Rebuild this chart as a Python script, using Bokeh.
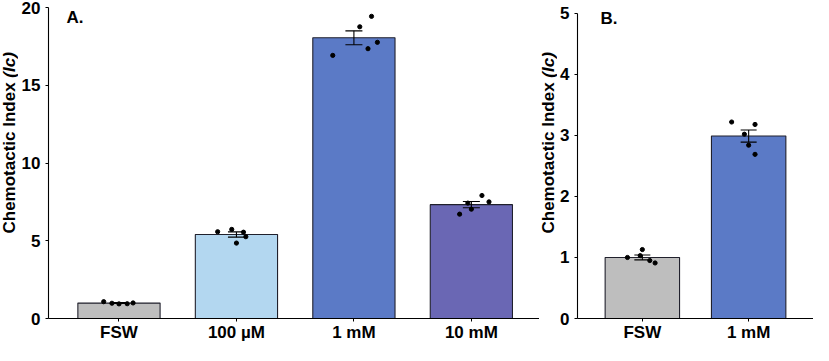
import math
from bokeh.plotting import figure
from bokeh.layouts import row
from bokeh.models import Range1d, FixedTicker, Label, Whisker, TeeHead, ColumnDataSource
from bokeh.core.properties import value
from bokeh.embed import file_html
from bokeh.resources import INLINE

# ---------------- data ----------------
a_categories = ["FSW", "100 µM", "1 mM", "10 mM"]
a_means = [0.99, 5.40, 18.05, 7.32]
a_sems = [0.03, 0.17, 0.45, 0.20]
a_points = [
    [1.08, 0.98, 0.94, 0.95, 1.00],
    [5.58, 5.73, 5.55, 5.26, 4.85],
    [16.92, 18.76, 19.43, 17.76, 17.35],
    [6.71, 7.42, 7.03, 7.91, 7.50],
]
a_jitter = [
    [-0.13, -0.06, 0.0, 0.07, 0.12],
    [-0.16, -0.04, 0.06, 0.08, 0.0],
    [-0.18, 0.05, 0.15, 0.20, 0.12],
    [-0.10, -0.03, 0.0, 0.09, 0.15],
]
a_colors = ["#BEBEBE", "#B3D7F0", "#5B7AC6", "#6A67B4"]
a_yticks = [0, 5, 10, 15, 20]

b_categories = ["FSW", "1 mM"]
b_means = [1.00, 2.99]
b_sems = [0.04, 0.10]
b_points = [
    [1.00, 1.13, 1.03, 0.95, 0.91],
    [3.22, 3.02, 3.18, 2.84, 2.69],
]
b_jitter = [
    [-0.14, 0.0, -0.02, 0.07, 0.12],
    [-0.16, -0.04, 0.06, 0.0, 0.06],
]
b_colors = ["#BEBEBE", "#5B7AC6"]
b_yticks = [0, 1, 2, 3, 4, 5]

y_label_main = "Chemotactic Index "
y_label_ital = "(Ic)"

FONT = "Liberation Sans"
H = 345
TOP = 7          # shared top border of all figures in the row
BOTTOM = 27      # shared bottom border (>= x-axis needs)
FH = H - TOP - BOTTOM   # frame height in px


def text_width(s, size):
    w = {"C": 722, "h": 611, "e": 556, "m": 889, "o": 611, "t": 333, "a": 556,
         "c": 556, "i": 278, " ": 278, "I": 278, "n": 611, "d": 611, "x": 556,
         "(": 333, ")": 333}
    return sum(w.get(ch, 556) for ch in s) * size / 1000.0


def label_strip(width, start_px, size=17):
    """A narrow figure holding the rotated y-axis title (bold + bold italic)."""
    p = figure(width=width, height=H, output_backend="svg",
               toolbar_location=None, x_range=Range1d(0, width),
               y_range=Range1d(0, FH), x_axis_location=None,
               y_axis_location=None, min_border_left=0, min_border_right=0,
               min_border_top=TOP, min_border_bottom=BOTTOM)
    p.grid.visible = False
    p.outline_line_color = None
    x0 = width / 2.0
    p.text(x=[x0], y=[start_px], text=[y_label_main],
           angle=math.pi / 2, text_font=value(FONT), text_font_style="bold",
           text_font_size=f"{size}px", text_align="left",
           text_baseline="middle", text_color="black")
    p.text(x=[x0], y=[start_px + text_width(y_label_main, size)],
           text=[y_label_ital], angle=math.pi / 2, text_font=value(FONT),
           text_font_style="bold italic", text_font_size=f"{size}px",
           text_align="left", text_baseline="middle", text_color="black")
    return p


def panel(categories, means, sems, points, jitter, colors, yticks, xr,
          top_gap_px, width, bl, letter, letter_dx, letter_drop_px, cap):
    ppu = (FH - top_gap_px) / float(yticks[-1] - yticks[0])
    ytop = yticks[-1] + top_gap_px / ppu
    p = figure(width=width, height=H, output_backend="svg",
               toolbar_location=None, x_range=Range1d(*xr),
               y_range=Range1d(yticks[0], ytop),
               min_border_left=bl, min_border_right=0,
               min_border_top=TOP, min_border_bottom=BOTTOM)
    p.outline_line_color = None
    p.xgrid.visible = False
    p.ygrid.visible = False

    xs = list(range(len(categories)))
    src = ColumnDataSource(dict(x=xs, top=means, color=colors,
                                upper=[m + s for m, s in zip(means, sems)],
                                lower=[m - s for m, s in zip(means, sems)]))
    p.vbar(x="x", top="top", bottom=0, width=0.70, fill_color="color",
           line_color="#20202c", line_width=1.1, source=src)

    w = Whisker(base="x", upper="upper", lower="lower", source=src,
                line_color="black", line_width=1.1, level="annotation",
                upper_head=TeeHead(size=cap, line_color="black", line_width=1.1),
                lower_head=TeeHead(size=cap, line_color="black", line_width=1.1))
    p.add_layout(w)

    px, py = [], []
    for i, (vals, jit) in enumerate(zip(points, jitter)):
        for v, j in zip(vals, jit):
            px.append(i + j)
            py.append(v)
    p.scatter(px, py, size=4.2, color="black")

    for ax in (p.xaxis[0], p.yaxis[0]):
        ax.axis_line_color = "black"
        ax.axis_line_width = 1.1
        ax.major_tick_line_color = "black"
        ax.major_tick_out = 3
        ax.major_tick_in = 0
        ax.minor_tick_line_color = None
        ax.major_label_text_font = FONT
        ax.major_label_text_font_style = "bold"
        ax.major_label_text_font_size = "17px"
        ax.major_label_text_color = "black"
        ax.axis_label_standoff = 0

    p.xaxis.ticker = FixedTicker(ticks=xs)
    p.xaxis.major_label_overrides = {i: c for i, c in enumerate(categories)}
    p.xaxis.major_label_standoff = 1
    p.yaxis.ticker = FixedTicker(ticks=yticks)
    p.yaxis.major_label_standoff = 5
    p.yaxis.bounds = (yticks[0], yticks[-1])

    lt = Label(x=xr[0], y=ytop - letter_drop_px / ppu, text=letter,
               text_font=FONT, text_font_style="bold", text_font_size="17px",
               text_align="left", text_baseline="top", text_color="black",
               x_offset=letter_dx)
    p.add_layout(lt)
    return p


la = label_strip(18, 85)
pa = panel(a_categories, a_means, a_sems, a_points, a_jitter, a_colors,
           a_yticks, (-0.6, 3.58), 0.0, width=521, bl=28,
           letter="A.", letter_dx=18, letter_drop_px=0.8, cap=17)
lb = label_strip(18, 85)
pb = panel(b_categories, b_means, b_sems, b_points, b_jitter, b_colors,
           b_yticks, (-0.61, 1.61), 5.9, width=256, bl=20,
           letter="B.", letter_dx=23, letter_drop_px=1.8, cap=16)

layout = row(la, pa, lb, pb, spacing=0)
open("out.html", "w").write(file_html(layout, INLINE))
